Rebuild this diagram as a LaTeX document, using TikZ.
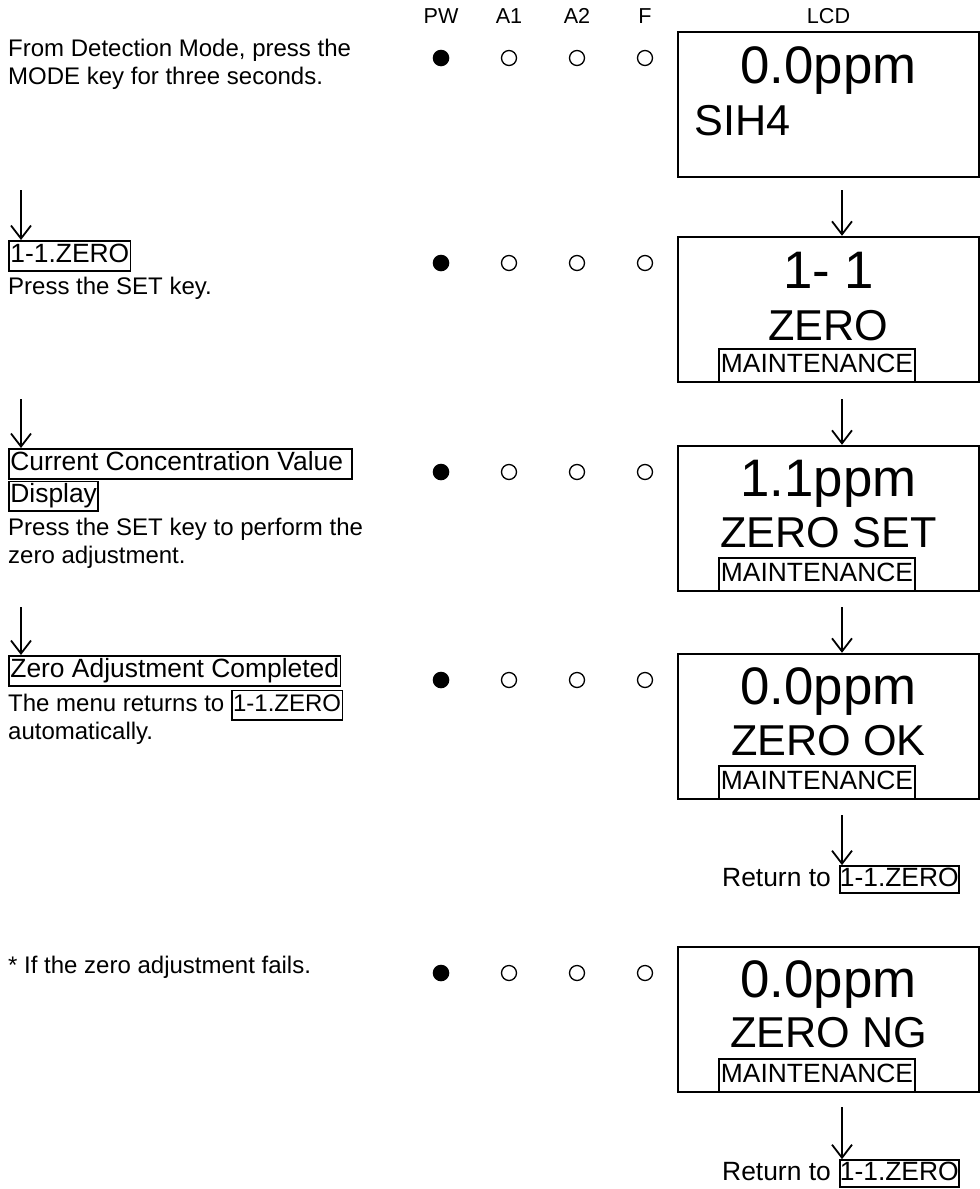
\documentclass[tikz,border=0pt]{standalone}
\usepackage{fontspec}
\setmainfont{Liberation Sans}
\usetikzlibrary{positioning,calc}
\usetikzlibrary{arrows.meta}
\newcommand{\keybox}[1]{{\setlength{\fboxsep}{0.5pt}\setlength{\fboxrule}{1.7pt}\fbox{\rule[-7pt]{0pt}{27pt}#1}}}
\newcommand{\labelbox}[1]{{\fontsize{26.4}{30}\selectfont\keybox{#1}}}
\tikzset{
	lcd/.style={draw=black,line width=2.4pt,minimum width=301pt,minimum height=145pt,inner sep=0pt},
	keybox/.style={draw=black,line width=1.7pt,inner xsep=1.5pt,inner ysep=0.5pt,text height=20pt,text depth=7pt},
	maint/.style={keybox,font=\fontsize{26.4}{30}\selectfont,minimum width=196pt,minimum height=33pt},
	ledon/.style={circle,fill=black,inner sep=0pt,minimum size=16.6pt},
	ledoff/.style={circle,draw=black,line width=1.3pt,inner sep=0pt,minimum size=15pt},
	hdr/.style={font=\fontsize{21.6}{24}\selectfont,inner sep=0pt,anchor=base},
	txt/.style={font=\fontsize{24}{27.6}\selectfont,inner sep=0pt,align=left,anchor=north west},
	rettxt/.style={font=\fontsize{26.4}{30}\selectfont,inner sep=0pt},
	bigtxt/.style={font=\fontsize{52.8}{60}\selectfont,inner sep=0pt,anchor=base},
	midtxt/.style={font=\fontsize{43.2}{48}\selectfont,inner sep=0pt,anchor=base},
	flow/.style={line width=1.8pt,-{Straight Barb[length=13pt,width=20pt]}},
}

\begin{document}
\begin{tikzpicture}[x=1pt,y=-1pt]
	\useasboundingbox (0,0) rectangle (980,1189);
	% column heads
	\node[hdr] (hpw) at (441,23) {PW};
	\node[hdr] (haone) at (509,23) {A1};
	\node[hdr] (hatwo) at (577,23) {A2};
	\node[hdr] (hflt) at (645,23) {F};
	\node[hdr] (hlcd) at (828.5,23) {LCD};
	% detection mode
	\begin{scope}[yshift=-32pt]
		\node[txt] (txt1) at (8,5) {\strut From Detection Mode, press the\\MODE key for three seconds.};
		\node[ledon] (pw1) at (441,26) {};
		\node[ledoff] (aone1) at (509,26) {};
		\node[ledoff] (atwo1) at (577,26) {};
		\node[ledoff] (flt1) at (645,26) {};
		\node[lcd] (lcd1) at (828.5,72.5) {};
		\node[bigtxt] (val1) at (828.5,51) {0.0ppm};
		\node[midtxt,anchor=base west] (gas1) at (694,103) {SIH4};
	\end{scope}
	% 1-1 zero
	\begin{scope}[yshift=-237pt]
		\coordinate (la2) at (21,-47);
		\coordinate (ra2) at (842,-47);
		\node[txt] (txt2) at (8,3) {\labelbox{1-1.ZERO}\\[4pt]Press the SET key.};
		\node[ledon] (pw2) at (441,26) {};
		\node[ledoff] (aone2) at (509,26) {};
		\node[ledoff] (atwo2) at (577,26) {};
		\node[ledoff] (flt2) at (645,26) {};
		\node[lcd] (lcd2) at (828.5,72.5) {};
		\node[bigtxt] (val2) at (828.5,51) {1- 1};
		\node[midtxt] (msg2) at (828.5,103) {ZERO};
		\node[maint] (mnt2) at (817,128.5) {MAINTENANCE};
	\end{scope}
	% zero set
	\begin{scope}[yshift=-446pt]
		\coordinate (la3) at (21,-47);
		\coordinate (ra3) at (842,-47);
		\node[txt] (txt3) at (8,2) {\labelbox{Current Concentration Value\ }\\ \labelbox{Display}\\[5pt]Press the SET key to perform the\\zero adjustment.};
		\node[ledon] (pw3) at (441,26) {};
		\node[ledoff] (aone3) at (509,26) {};
		\node[ledoff] (atwo3) at (577,26) {};
		\node[ledoff] (flt3) at (645,26) {};
		\node[lcd] (lcd3) at (828.5,72.5) {};
		\node[bigtxt] (val3) at (828.5,50) {1.1ppm};
		\node[midtxt] (msg3) at (828.5,101) {ZERO SET};
		\node[maint] (mnt3) at (817,128.5) {MAINTENANCE};
	\end{scope}
	% zero ok
	\begin{scope}[yshift=-654pt]
		\coordinate (la4) at (21,-47);
		\coordinate (ra4) at (842,-47);
		\coordinate (rb4) at (842,161);
		\node[txt] (txt4) at (8,1) {\labelbox{Zero Adjustment Completed}\\[2pt]The menu returns to \keybox{1-1.ZERO}\\automatically.};
		\node[ledon] (pw4) at (441,26) {};
		\node[ledoff] (aone4) at (509,26) {};
		\node[ledoff] (atwo4) at (577,26) {};
		\node[ledoff] (flt4) at (645,26) {};
		\node[lcd] (lcd4) at (828.5,72.5) {};
		\node[bigtxt] (val4) at (828.5,50) {0.0ppm};
		\node[midtxt] (msg4) at (828.5,101) {ZERO OK};
		\node[maint] (mnt4) at (817,128.5) {MAINTENANCE};
		\node[keybox,rettxt,anchor=base west] (key4) at (839,232) {1-1.ZERO};
		\node[rettxt,anchor=base east] (ret4) at ([xshift=-8pt]key4.base west) {Return to};
	\end{scope}
	% zero ng
	\begin{scope}[yshift=-947pt]
		\coordinate (rb5) at (842,160);
		\node[txt] (txt5) at (8,7) {\strut * If the zero adjustment fails.};
		\node[ledon] (pw5) at (441,26) {};
		\node[ledoff] (aone5) at (509,26) {};
		\node[ledoff] (atwo5) at (577,26) {};
		\node[ledoff] (flt5) at (645,26) {};
		\node[lcd] (lcd5) at (828.5,72.5) {};
		\node[bigtxt] (val5) at (828.5,50) {0.0ppm};
		\node[midtxt] (msg5) at (828.5,100) {ZERO NG};
		\node[maint] (mnt5) at (817,128.5) {MAINTENANCE};
		\node[keybox,rettxt,anchor=base west] (key5) at (839,233) {1-1.ZERO};
		\node[rettxt,anchor=base east] (ret5) at ([xshift=-8pt]key5.base west) {Return to};
	\end{scope}
	% arrows
	\draw[flow] (la2) -- (la2 |- txt2.north);
	\draw[flow] (la3) -- (la3 |- txt3.north);
	\draw[flow] (la4) -- (la4 |- txt4.north);
	\draw[flow] (ra2) -- (ra2 |- lcd2.north);
	\draw[flow] (ra3) -- (ra3 |- lcd3.north);
	\draw[flow] (ra4) -- (ra4 |- lcd4.north);
	\draw[flow] (rb4) -- (rb4 |- key4.north);
	\draw[flow] (rb5) -- (rb5 |- key5.north);
\end{tikzpicture}
\end{document}
